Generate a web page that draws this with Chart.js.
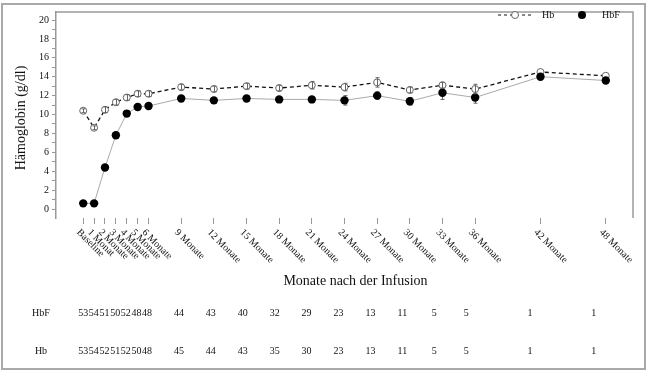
<!DOCTYPE html>
<html>
<head>
<meta charset="utf-8">
<script src="https://cdn.jsdelivr.net/npm/chart.js@4.4.1/dist/chart.umd.min.js"></script>
<style>
  html, body { margin: 0; padding: 0; background: #fff; }
  #wrap { position: relative; width: 650px; height: 372px; }
  #chart { position: absolute; left: 0; top: 0; }
  #frame { position: absolute; left: 1px; top: 3px; width: 645px; height: 367px;
           border: 2px solid #a9a9a9; box-sizing: border-box; pointer-events: none; }
</style>
</head>
<body>
<div id="wrap">
  <canvas id="chart" width="650" height="372"></canvas>
  <div id="frame"></div>
</div>
<script>
// months after infusion
const months = [0, 1, 2, 3, 4, 5, 6, 9, 12, 15, 18, 21, 24, 27, 30, 33, 36, 42, 48];
const monthLabels = ['Baseline', '1 Monat', '2 Monate', '3 Monate', '4 Monate', '5 Monate', '6 Monate',
  '9 Monate', '12 Monate', '15 Monate', '18 Monate', '21 Monate', '24 Monate', '27 Monate',
  '30 Monate', '33 Monate', '36 Monate', '42 Monate', '48 Monate'];

const hbValues  = [10.4, 8.6, 10.5, 11.3, 11.8, 12.2, 12.2, 12.9, 12.7, 13.0, 12.8, 13.1, 12.9, 13.4, 12.6, 13.1, 12.7, 14.5, 14.1];
const hbErrors  = [0.2, 0.2, 0.3, 0.3, 0.3, 0.3, 0.3, 0.3, 0.3, 0.3, 0.3, 0.4, 0.4, 0.5, 0.3, 0.3, 0.5, 0, 0];
const hbfValues = [0.6, 0.6, 4.4, 7.8, 10.1, 10.8, 10.9, 11.7, 11.5, 11.7, 11.6, 11.6, 11.5, 12.0, 11.4, 12.3, 11.8, 14.0, 13.6];
const hbfErrors = [0.1, 0.1, 0.2, 0.3, 0.3, 0.3, 0.3, 0.3, 0.3, 0.3, 0.3, 0.3, 0.5, 0.4, 0.4, 0.7, 0.6, 0, 0];

// patients per time point
const hbfCounts = [53, 54, 51, 50, 52, 48, 48, 44, 43, 40, 32, 29, 23, 13, 11, 5, 5, 1, 1];
const hbCounts  = [53, 54, 52, 51, 52, 50, 48, 45, 44, 43, 35, 30, 23, 13, 11, 5, 5, 1, 1];

const yTickValues = [];
for (let v = 0; v <= 20; v++) yTickValues.push(v);

const serif = 'Liberation Serif';

function drawBars(chart, vals, errs) {
  const ctx = chart.ctx;
  const x = chart.scales.x, y = chart.scales.y;
  ctx.save();
  ctx.strokeStyle = '#666';
  ctx.lineWidth = 1;
  months.forEach((m, i) => {
    if (!errs[i]) return;
    const px = Math.round(x.getPixelForValue(m)) + 0.5;
    const top = y.getPixelForValue(vals[i] + errs[i]);
    const bot = y.getPixelForValue(vals[i] - errs[i]);
    ctx.beginPath();
    ctx.moveTo(px, top); ctx.lineTo(px, bot);
    ctx.moveTo(px - 2, top); ctx.lineTo(px + 2, top);
    ctx.moveTo(px - 2, bot); ctx.lineTo(px + 2, bot);
    ctx.stroke();
  });
  ctx.restore();
}

// HbF bars sit under the filled dots, Hb bars show through the open circles
const errorBars = {
  id: 'errorBars',
  beforeDatasetsDraw(chart) { drawBars(chart, hbfValues, hbfErrors); },
  afterDatasetsDraw(chart) { drawBars(chart, hbValues, hbErrors); }
};

const decorations = {
  id: 'decorations',
  afterDraw(chart) {
    const ctx = chart.ctx;
    const area = chart.chartArea;
    const x = chart.scales.x;
    ctx.save();

    // top and right edge of the plot frame
    ctx.strokeStyle = '#9a9a9a';
    ctx.lineWidth = 1.5;
    ctx.beginPath();
    ctx.moveTo(area.left, area.top);
    ctx.lineTo(area.right, area.top);
    ctx.lineTo(area.right, area.bottom);
    ctx.stroke();

    // rotated month labels
    ctx.fillStyle = '#111';
    ctx.font = '10px "' + serif + '"';
    ctx.textAlign = 'left';
    ctx.textBaseline = 'middle';
    months.forEach((m, i) => {
      ctx.save();
      ctx.translate(x.getPixelForValue(m) - 5, area.bottom + 13);
      ctx.rotate(Math.PI / 4);
      ctx.fillText(monthLabels[i], 0, 0);
      ctx.restore();
    });

    // axis titles
    ctx.font = '14px "' + serif + '"';
    ctx.textAlign = 'center';
    ctx.fillText('Monate nach der Infusion', (area.left + area.right) / 2 + 11, 281);
    ctx.save();
    ctx.translate(21, (area.top + area.bottom) / 2 + 3);
    ctx.rotate(-Math.PI / 2);
    ctx.fillText('Hämoglobin (g/dl)', 0, 0);
    ctx.restore();

    // legend
    const ly = area.top + 3;
    ctx.strokeStyle = '#111';
    ctx.lineWidth = 1.2;
    ctx.setLineDash([3, 3]);
    ctx.beginPath();
    ctx.moveTo(area.right - 135, ly);
    ctx.lineTo(area.right - 101, ly);
    ctx.stroke();
    ctx.setLineDash([]);
    ctx.fillStyle = '#fff';
    ctx.strokeStyle = '#666';
    ctx.lineWidth = 1;
    ctx.beginPath();
    ctx.arc(area.right - 118, ly, 3.5, 0, Math.PI * 2);
    ctx.fill(); ctx.stroke();
    ctx.fillStyle = '#000';
    ctx.beginPath();
    ctx.arc(area.right - 51, ly, 4, 0, Math.PI * 2);
    ctx.fill();
    ctx.font = '10px "' + serif + '"';
    ctx.textAlign = 'left';
    ctx.fillStyle = '#111';
    ctx.fillText('Hb', area.right - 91, ly);
    ctx.fillText('HbF', area.right - 31, ly);

    // patient count table
    ctx.textAlign = 'center';
    ctx.fillText('HbF', 41, 313);
    ctx.fillText('Hb', 41, 351);
    months.forEach((m, i) => {
      const px = x.getPixelForValue(m) - m * 0.25;
      ctx.fillText(String(hbfCounts[i]), px, 313);
      ctx.fillText(String(hbCounts[i]), px, 351);
    });
    ctx.restore();
  }
};

new Chart(document.getElementById('chart'), {
  type: 'line',
  data: {
    datasets: [
      {
        label: 'Hb',
        data: months.map((m, i) => ({ x: m, y: hbValues[i] })),
        borderColor: '#111',
        borderWidth: 1.3,
        borderDash: [4, 3],
        pointRadius: 3.5,
        pointBackgroundColor: '#fff',
        pointBorderColor: '#666',
        pointBorderWidth: 1,
        order: 2
      },
      {
        label: 'HbF',
        data: months.map((m, i) => ({ x: m, y: hbfValues[i] })),
        borderColor: '#aaa',
        borderWidth: 1,
        pointRadius: 4.2,
        pointBackgroundColor: '#000',
        pointBorderColor: '#000',
        pointBorderWidth: 0,
        order: 1
      }
    ]
  },
  options: {
    responsive: false,
    animation: false,
    layout: { padding: { top: 12, right: 17, left: 0, bottom: 0 } },
    plugins: { legend: { display: false }, tooltip: { enabled: false } },
    scales: {
      x: {
        type: 'linear',
        min: -2.5,
        max: 50.5,
        afterBuildTicks: scale => { scale.ticks = months.map(v => ({ value: v })); },
        afterFit: scale => { scale.height = 154; },
        ticks: { display: false },
        grid: { drawOnChartArea: false, drawTicks: true, tickLength: 6, color: '#999' },
        border: { display: false }
      },
      y: {
        min: -0.95,
        max: 20.85,
        afterBuildTicks: scale => { scale.ticks = yTickValues.map(v => ({ value: v })); },
        afterFit: scale => { scale.width = 56; },
        ticks: {
          callback: v => (v % 2 === 0 ? String(v) : ''),
          font: { family: serif, size: 10 },
          color: '#111',
          padding: 3,
          autoSkip: false
        },
        grid: { drawOnChartArea: false, drawTicks: true, tickLength: 4, color: '#999' },
        border: { display: true, color: '#9a9a9a', width: 1.5 }
      }
    }
  },
  plugins: [errorBars, decorations]
});
</script>
</body>
</html>
